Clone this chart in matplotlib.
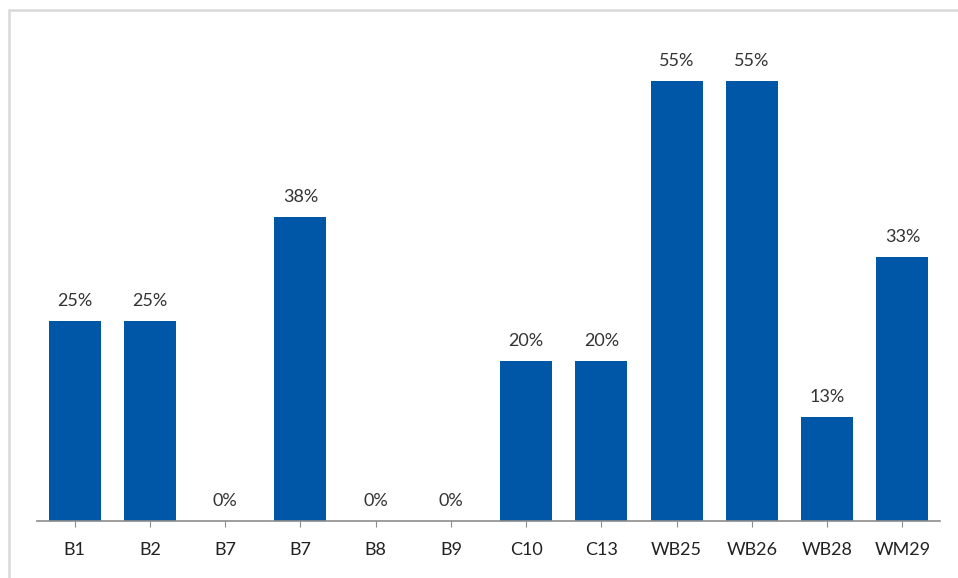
import matplotlib.pyplot as plt
from matplotlib.patches import Rectangle
import numpy as np

# sites et pourcentages
sites = ["B1", "B2", "B7", "B7", "B8", "B9", "C10", "C13", "WB25", "WB26", "WB28", "WM29"]
pourcent = [25, 25, 0, 38, 0, 0, 20, 20, 55, 55, 13, 33]

plt.rcParams['font.family'] = ['Lato', 'DejaVu Sans']

fig = plt.figure(figsize=(9.58, 5.78), dpi=100)
fig.patch.set_facecolor("white")

# cadre gris clair autour du graphique
W, H = 958, 578
fig.patches.append(Rectangle((9 / W, -0.05), 1.1, 1 - 9.5 / H + 0.05, transform=fig.transFigure,
                             fill=False, edgecolor="#d9d9d9", linewidth=1.8))

ax = fig.add_axes([37 / W, (H - 521) / H, 903 / W, 480 / H])
x = np.arange(len(sites))
bars = ax.bar(x, pourcent, width=0.69, color="#0057a8")

for b, v in zip(bars, pourcent):
    ax.annotate(f"{v}%", (b.get_x() + b.get_width() / 2, v), xytext=(0, 9),
                textcoords="offset points", ha="center", va="bottom",
                fontsize=13, color="#333333")

ax.set_xlim(-0.5, len(sites) - 0.5)
ax.set_ylim(0, 60)
ax.set_xticks(x)
ax.set_xticklabels(sites, fontsize=13, color="#222222")
ax.tick_params(axis="x", length=4, color="#8c8c8c", pad=11)
ax.set_yticks([])
for s in ["top", "right", "left"]:
    ax.spines[s].set_visible(False)
ax.spines["bottom"].set_color("#8c8c8c")
ax.spines["bottom"].set_linewidth(1.2)

fig.savefig("out.png", dpi=100)
